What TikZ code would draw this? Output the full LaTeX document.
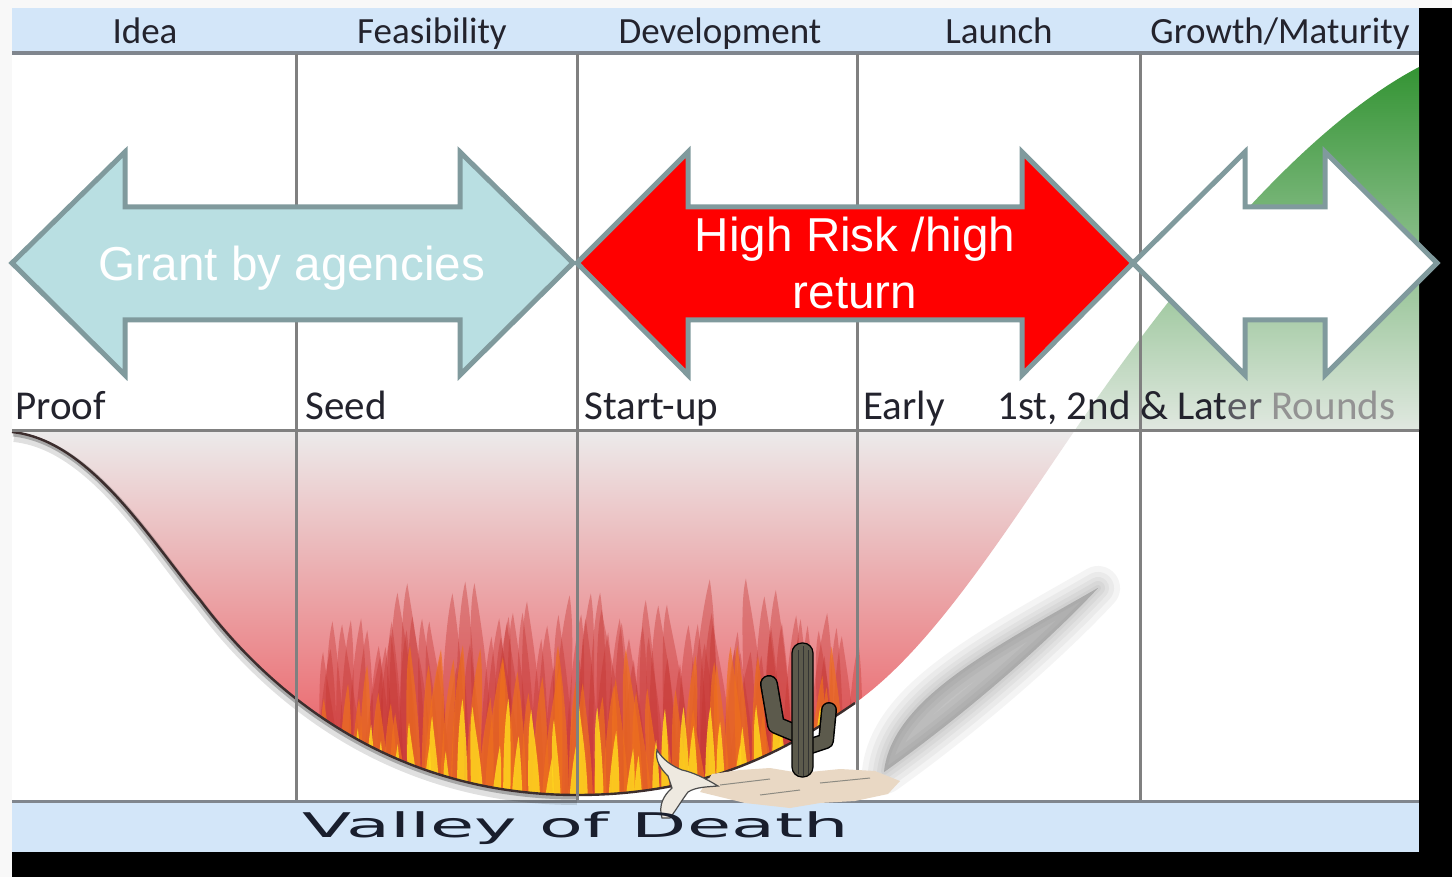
\documentclass[tikz,border=0pt]{standalone}
\usepackage{fontspec}
\usepackage{graphicx}
\newfontfamily\hdrfont{Carlito}
\newfontfamily\arialfont{Liberation Sans}
\newfontfamily\vodfont{DejaVu Sans}
\definecolor{bandblue}{RGB}{211,230,249}
\definecolor{bandline}{RGB}{128,134,142}
\definecolor{gridgray}{RGB}{128,128,128}
\definecolor{arrowline}{RGB}{128,154,157}
\definecolor{tealfill}{RGB}{185,223,226}
\definecolor{txtdark}{RGB}{35,35,45}
\definecolor{redA}{RGB}{196,52,48}
\definecolor{orangeA}{RGB}{238,112,30}
\definecolor{yellowA}{RGB}{255,214,30}
\definecolor{cactus}{RGB}{92,90,76}
\definecolor{sand}{RGB}{233,216,196}
\definecolor{skull}{RGB}{238,233,224}
\definecolor{valTop}{RGB}{236,235,235}
\definecolor{valMid}{RGB}{241,160,160}
\definecolor{valBot}{RGB}{234,78,84}
\definecolor{grTop}{RGB}{52,148,52}
\definecolor{grMid}{RGB}{130,190,130}
\definecolor{grBot}{RGB}{224,232,224}
\definecolor{edgeDark}{RGB}{60,45,45}
\definecolor{valText}{RGB}{25,30,45}
\definecolor{pageBg}{RGB}{248,248,248}
\definecolor{smoke}{RGB}{110,110,110}
\tikzset{
  gridline/.style={draw=gridgray, line width=1.5pt},
  bigarrow/.style={draw=arrowline, line width=2.5pt, line join=miter},
  hdr/.style={anchor=base, inner sep=0pt, text=txtdark, font=\hdrfont\fontsize{18.5}{20}\selectfont},
  rowlab/.style={anchor=base west, inner sep=0pt, text=txtdark, font=\hdrfont\fontsize{20.5}{22}\selectfont},
  arrtext/.style={inner sep=0pt, text=white, font=\arialfont\fontsize{23.8}{28}\selectfont, align=center},
  flameA/.style={fill=redA, opacity=0.38},
  flameB/.style={fill=orangeA, opacity=0.7},
  flameC/.style={fill=yellowA, opacity=0.85},
}
\begin{document}
\begin{tikzpicture}[x=0.5pt,y=-0.5pt]
\useasboundingbox (0,0) rectangle (1452,877);
% page background
\fill[pageBg] (0,0) rectangle (1452,877);
% black drop shadow
\fill[black] (12,8) rectangle (1452,877);
% content area
\fill[white] (12,8) rectangle (1419,852);
% top band
\fill[bandblue] (12,8) rectangle (1419,52);
\draw[bandline, line width=2pt] (12,53) -- (1419,53);
% bottom band
\fill[bandblue] (12,802) rectangle (1419,852);
\draw[bandline, line width=1.5pt] (12,801) -- (1419,801);

% valley fill
\shade[top color=valTop, middle color=valMid, bottom color=valBot]
  (12,430) -- (12,432) .. controls (90,440) and (150,540) .. (200,600)
  .. controls (260,680) and (380,795) .. (577,795)
  .. controls (720,795) and (800,740) .. (855,703)
  .. controls (930,650) and (1000,540) .. (1075,430) -- cycle;

% flames clipped to valley
\begin{scope}
\clip (12,430) -- (12,432) .. controls (90,440) and (150,540) .. (200,600)
  .. controls (260,680) and (380,795) .. (577,795)
  .. controls (720,795) and (800,740) .. (855,703)
  .. controls (930,650) and (1000,540) .. (1075,430) -- cycle;
\pgfmathsetseed{11}
\foreach \i in {0,...,40}{
  \pgfmathsetmacro{\fx}{322+\i*13+rnd*6}
  \pgfmathsetmacro{\ft}{578+rnd*75}
  \pgfmathsetmacro{\fw}{9+rnd*7}
  \pgfmathsetmacro{\fd}{(rnd-0.5)*24}
  \fill[flameA] (\fx-\fw,820) .. controls (\fx-\fw,\ft+120) and (\fx+\fd-8,\ft+30) .. (\fx+\fd,\ft)
    .. controls (\fx+\fd+6,\ft+40) and (\fx+\fw,\ft+100) .. (\fx+\fw,820) -- cycle;
}
\foreach \i in {0,...,40}{
  \pgfmathsetmacro{\fx}{328+\i*13+rnd*6}
  \pgfmathsetmacro{\ft}{610+rnd*60}
  \pgfmathsetmacro{\fw}{7+rnd*5}
  \pgfmathsetmacro{\fd}{(rnd-0.5)*20}
  \fill[flameA] (\fx-\fw,820) .. controls (\fx-\fw,\ft+100) and (\fx+\fd-7,\ft+30) .. (\fx+\fd,\ft)
    .. controls (\fx+\fd+5,\ft+40) and (\fx+\fw,\ft+90) .. (\fx+\fw,820) -- cycle;
}
\foreach \i in {0,...,44}{
  \pgfmathsetmacro{\fx}{330+\i*11.5+rnd*6}
  \pgfmathsetmacro{\ft}{645+rnd*70}
  \pgfmathsetmacro{\fw}{6+rnd*5}
  \pgfmathsetmacro{\fd}{(rnd-0.5)*16}
  \fill[flameB] (\fx-\fw,820) .. controls (\fx-\fw,\ft+90) and (\fx+\fd-6,\ft+25) .. (\fx+\fd,\ft)
    .. controls (\fx+\fd+4,\ft+35) and (\fx+\fw,\ft+80) .. (\fx+\fw,820) -- cycle;
}
\foreach \i in {0,...,36}{
  \pgfmathsetmacro{\fx}{340+\i*13.5+rnd*7}
  \pgfmathsetmacro{\ft}{690+rnd*70}
  \pgfmathsetmacro{\fw}{3.5+rnd*3}
  \pgfmathsetmacro{\fd}{(rnd-0.5)*10}
  \fill[flameC] (\fx-\fw,820) .. controls (\fx-\fw,\ft+60) and (\fx+\fd-4,\ft+20) .. (\fx+\fd,\ft)
    .. controls (\fx+\fd+3,\ft+30) and (\fx+\fw,\ft+60) .. (\fx+\fw,820) -- cycle;
}
\end{scope}

% green growth area
\shade[top color=grTop, middle color=grMid, bottom color=grBot]
  (1075,430) .. controls (1140,335) and (1280,140) .. (1419,67) -- (1419,430) -- cycle;

% curve edges
\draw[black, opacity=0.12, line width=5pt] (14,437) .. controls (92,445) and (150,545) .. (200,605)
  .. controls (260,685) and (380,800) .. (577,800);
\draw[black, opacity=0.25, line width=2.5pt] (13,434) .. controls (91,442) and (150,542) .. (200,602)
  .. controls (260,682) and (380,797) .. (577,797);
\draw[edgeDark, line width=1.2pt] (12,432) .. controls (90,440) and (150,540) .. (200,600)
  .. controls (260,680) and (380,795) .. (577,795)
  .. controls (720,795) and (800,740) .. (855,703);

% smoky shadow (blurred crescent)
\foreach \w in {22pt, 16pt, 11pt, 7pt, 3pt, 0.1pt}{
  \filldraw[fill=smoke, draw=smoke, opacity=0.07, line width=\w, line join=round]
    (884,772) .. controls (892,700) and (990,650) .. (1098,588)
    .. controls (1035,655) and (950,725) .. (884,772) -- cycle;
}

% grid lines
\draw[gridline] (296,54) -- (296,800);
\draw[gridline] (577,54) -- (577,800);
\draw[gridline] (857,54) -- (857,800);
\draw[gridline] (1140,54) -- (1140,800);
\draw[gridline] (12,430) -- (1419,430);

% sand patch, cactus, skull
\fill[sand] (700,792) -- (712,774) -- (740,770) -- (770,768) -- (800,773) -- (840,769) -- (875,771) -- (900,781) -- (888,794) -- (855,801) -- (820,803) -- (790,808) -- (745,803) -- cycle;
\draw[cactus!70, line width=0.5pt] (720,785) -- (770,779) (820,783) -- (870,778) (760,795) -- (800,790);
\draw[black, line width=9pt, line cap=round, line join=round] (800,735) -- (776,725) -- (769,684);
\draw[cactus, line width=7.5pt, line cap=round, line join=round] (800,735) -- (776,725) -- (769,684);
\draw[black, line width=8pt, line cap=round, line join=round] (805,748) -- (826,741) -- (829,710);
\draw[cactus, line width=6.5pt, line cap=round, line join=round] (805,748) -- (826,741) -- (829,710);
\filldraw[fill=cactus, draw=black, line width=0.6pt, rounded corners=5pt] (792,777) -- (792,643) -- (813,643) -- (813,777) -- cycle;
\draw[black!80, line width=0.4pt] (798,650) -- (798,774) (803,646) -- (803,776) (808,650) -- (808,774);
\filldraw[fill=skull, draw=black!70, line width=0.6pt] (662,818) .. controls (658,805) and (664,795) .. (672,788) -- (668,776)
  .. controls (660,768) and (655,760) .. (657,750) .. controls (663,760) and (672,766) .. (682,770)
  .. controls (692,772) and (705,778) .. (718,786) .. controls (706,787) and (696,787) .. (688,792)
  .. controls (682,800) and (676,810) .. (670,818) -- cycle;

% headers
\node[hdr] (hIdea) at (145,44) {Idea};
\node[hdr] (hFeas) at (432,44) {Feasibility};
\node[hdr] (hDev) at (720,44) {Development};
\node[hdr] (hLaunch) at (999,44) {Launch};
\node[hdr] (hGrowth) at (1280,44) {Growth/Maturity};

% row labels
\node[rowlab] (rProof) at (15,419) {Proof};
\node[rowlab] (rSeed) at (305,419) {Seed};
\node[rowlab] (rStart) at (584,419) {Start-up};
\node[rowlab] (rEarly) at (863,419) {Early};
\node[rowlab] (rLater) at (997,419) {1st, 2nd \& Lat{\color{txtdark!75}er} {\color{gray!85}Rounds}};

% arrows
\filldraw[bigarrow, fill=tealfill] (12,263) -- (125,152) -- (125,207) -- (460,207) -- (460,152) -- (573,263)
  -- (460,375) -- (460,320) -- (125,320) -- (125,375) -- cycle;
\filldraw[bigarrow, fill=red] (577,263) -- (688,152) -- (688,207) -- (1022,207) -- (1022,152) -- (1133,263)
  -- (1022,375) -- (1022,320) -- (688,320) -- (688,375) -- cycle;
\filldraw[bigarrow, fill=white] (1133,263) -- (1245,152) -- (1245,207) -- (1325,207) -- (1325,152) -- (1437,263)
  -- (1325,375) -- (1325,320) -- (1245,320) -- (1245,375) -- cycle;

\node[arrtext, anchor=base] (tGrant) at (292,281) {Grant by agencies};
\node[arrtext, anchor=base] (tRisk1) at (855,252) {High Risk /high};
\node[arrtext, anchor=base] (tRisk2) at (855,309) {return};

% valley text
\node[inner sep=0pt, anchor=base, text=valText] (tValley) at (576,837)
  {\resizebox{273pt}{\height}{\vodfont\fontsize{17}{17}\selectfont Valley of Death}};
\end{tikzpicture}
\end{document}
